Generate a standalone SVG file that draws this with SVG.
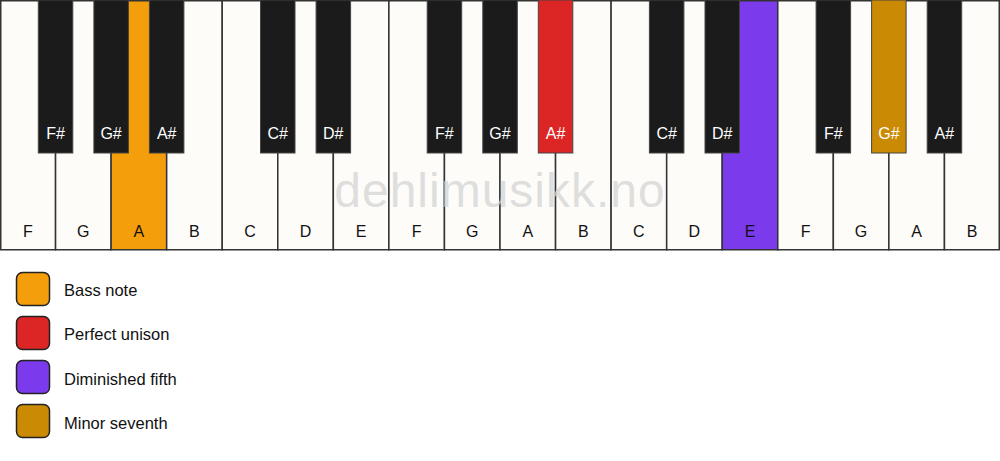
<svg xmlns="http://www.w3.org/2000/svg" width="1000" height="461" viewBox="0 0 1000 461">
<style>
.w{fill:#fdfcf9;stroke:#333;stroke-width:1.5}
.b{fill:#1b1b1b;stroke:#444;stroke-width:1}
.t{font-family:"Liberation Sans",Arial,sans-serif;font-size:16px;text-anchor:middle}
.tw{fill:#111}
.tb{fill:#fff}
.lg{stroke:#222;stroke-width:1.5}
.lt{font-family:"Liberation Sans",Arial,sans-serif;font-size:16.5px;fill:#111}
</style>
<rect width="1000" height="461" fill="#fff"/>
<g id="white-keys">
<rect class="w" x="0.75" y="0.75" width="54.8" height="249"/>
<rect class="w" x="55.56" y="0.75" width="55.56" height="249"/>
<rect class="w" x="111.11" y="0.75" width="55.56" height="249" style="fill:#f59e0b"/>
<rect class="w" x="166.67" y="0.75" width="55.56" height="249"/>
<rect class="w" x="222.22" y="0.75" width="55.56" height="249"/>
<rect class="w" x="277.78" y="0.75" width="55.56" height="249"/>
<rect class="w" x="333.33" y="0.75" width="55.56" height="249"/>
<rect class="w" x="388.89" y="0.75" width="55.56" height="249"/>
<rect class="w" x="444.44" y="0.75" width="55.56" height="249"/>
<rect class="w" x="500" y="0.75" width="55.56" height="249"/>
<rect class="w" x="555.56" y="0.75" width="55.56" height="249"/>
<rect class="w" x="611.11" y="0.75" width="55.56" height="249"/>
<rect class="w" x="666.67" y="0.75" width="55.56" height="249"/>
<rect class="w" x="722.22" y="0.75" width="55.56" height="249" style="fill:#7c3aed"/>
<rect class="w" x="777.78" y="0.75" width="55.56" height="249"/>
<rect class="w" x="833.33" y="0.75" width="55.56" height="249"/>
<rect class="w" x="888.89" y="0.75" width="55.56" height="249"/>
<rect class="w" x="944.44" y="0.75" width="54.8" height="249"/>
</g>
<text x="500" y="207" font-family="Liberation Sans,Arial,sans-serif" font-size="48" fill="#d4d4d4" fill-opacity="0.75" text-anchor="middle" letter-spacing="1">dehlimusikk.no</text>
<g id="white-labels" class="t tw">
<text x="27.8" y="237">F</text>
<text x="83.3" y="237">G</text>
<text x="138.9" y="237">A</text>
<text x="194.4" y="237">B</text>
<text x="250" y="237">C</text>
<text x="305.6" y="237">D</text>
<text x="361.1" y="237">E</text>
<text x="416.7" y="237">F</text>
<text x="472.2" y="237">G</text>
<text x="527.8" y="237">A</text>
<text x="583.3" y="237">B</text>
<text x="638.9" y="237">C</text>
<text x="694.4" y="237">D</text>
<text x="750" y="237">E</text>
<text x="805.6" y="237">F</text>
<text x="861.1" y="237">G</text>
<text x="916.7" y="237">A</text>
<text x="972.2" y="237">B</text>
</g>
<g id="black-keys">
<rect class="b" x="38.3" y="0" width="34.5" height="153"/>
<rect class="b" x="93.9" y="0" width="34.5" height="153"/>
<rect class="b" x="149.4" y="0" width="34.5" height="153"/>
<rect class="b" x="260.5" y="0" width="34.5" height="153"/>
<rect class="b" x="316.1" y="0" width="34.5" height="153"/>
<rect class="b" x="427.2" y="0" width="34.5" height="153"/>
<rect class="b" x="482.8" y="0" width="34.5" height="153"/>
<rect class="b" x="538.3" y="0" width="34.5" height="153" style="fill:#dc2626"/>
<rect class="b" x="649.4" y="0" width="34.5" height="153"/>
<rect class="b" x="705" y="0" width="34.5" height="153"/>
<rect class="b" x="816.1" y="0" width="34.5" height="153"/>
<rect class="b" x="871.6" y="0" width="34.5" height="153" style="fill:#ca8a04"/>
<rect class="b" x="927.2" y="0" width="34.5" height="153"/>
</g>
<g id="black-labels" class="t tb">
<text x="55.6" y="138.5">F#</text>
<text x="111.1" y="138.5">G#</text>
<text x="166.7" y="138.5">A#</text>
<text x="277.8" y="138.5">C#</text>
<text x="333.3" y="138.5">D#</text>
<text x="444.4" y="138.5">F#</text>
<text x="500" y="138.5">G#</text>
<text x="555.6" y="138.5">A#</text>
<text x="666.7" y="138.5">C#</text>
<text x="722.2" y="138.5">D#</text>
<text x="833.3" y="138.5">F#</text>
<text x="888.9" y="138.5">G#</text>
<text x="944.4" y="138.5">A#</text>
</g>
<g id="legend">
<g id="legend-bass"><rect class="lg" x="16.5" y="272.5" width="33" height="33" rx="6" fill="#f59e0b"/><text class="lt" x="64" y="295.5">Bass note</text></g>
<g id="legend-unison"><rect class="lg" x="16.5" y="316.5" width="33" height="33" rx="6" fill="#dc2626"/><text class="lt" x="64" y="340">Perfect unison</text></g>
<g id="legend-dim5"><rect class="lg" x="16.5" y="360.5" width="33" height="33" rx="6" fill="#7c3aed"/><text class="lt" x="64" y="384.5">Diminished fifth</text></g>
<g id="legend-min7"><rect class="lg" x="16.5" y="404.5" width="33" height="33" rx="6" fill="#ca8a04"/><text class="lt" x="64" y="428.5">Minor seventh</text></g>
</g>
<g id="connectors"/>
</svg>
